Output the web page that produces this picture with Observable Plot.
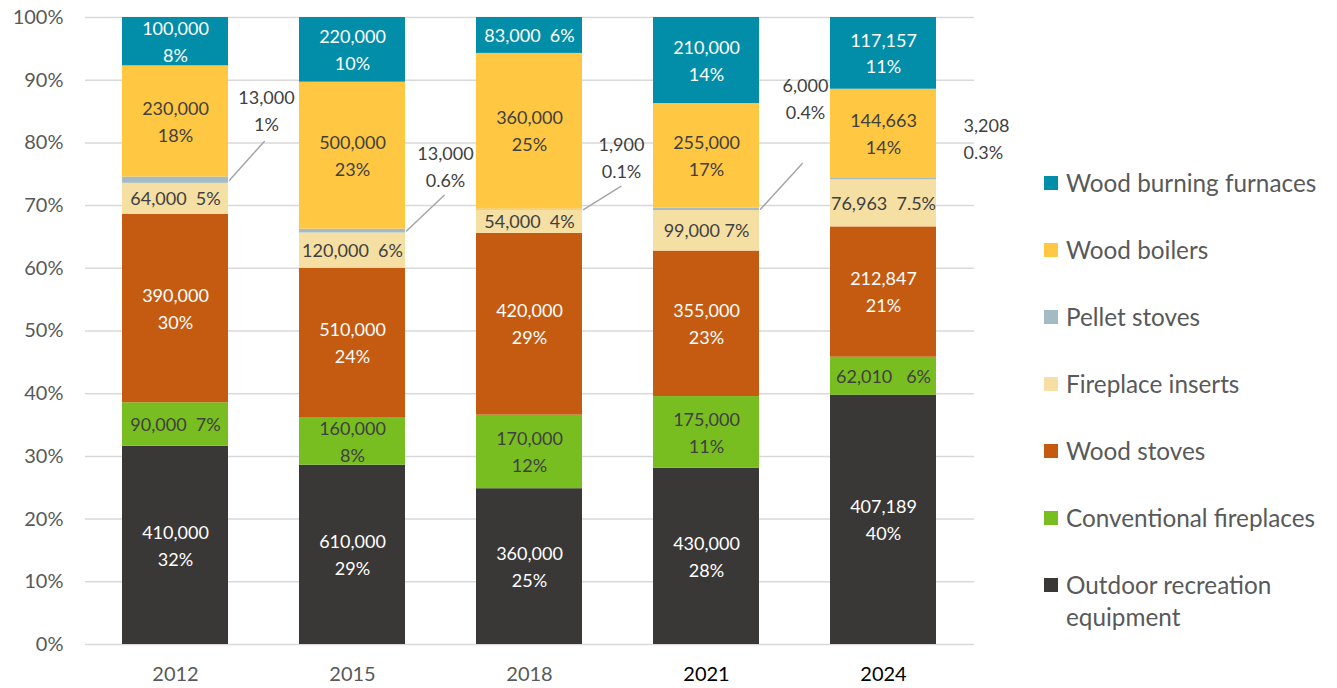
<!DOCTYPE html>
<html>
<head>
<meta charset="utf-8">
<script src="https://cdn.jsdelivr.net/npm/d3@7"></script>
<script src="https://cdn.jsdelivr.net/npm/@observablehq/plot@0.6"></script>
<style>
  html, body { margin: 0; padding: 0; background: #fff; }
  #wrap { position: relative; width: 1337px; height: 688px; font-family: Lato, "Open Sans", sans-serif; }
  #legend { position: absolute; left: 1044px; top: 0; }
  .item { position: absolute; left: 0; width: 293px; font-size: 24.3px; color: #595959; line-height: 32px; }
  .sw { position: absolute; left: 0; width: 14px; height: 14px; }
  .lab { position: absolute; left: 22px; white-space: nowrap; }
</style>
</head>
<body>
<div id="wrap"><div id="chart"></div><div id="legend"></div></div>
<script>
// ---- data ----
const years = ["2012", "2015", "2018", "2021", "2024"];
const categories = ["Outdoor recreation equipment", "Conventional fireplaces", "Wood stoves", "Fireplace inserts", "Pellet stoves", "Wood boilers", "Wood burning furnaces"];
const colors = ["#3A3837", "#78BE20", "#C55A11", "#F5DFA3", "#A5BBC3", "#FFC742", "#028DA9"];

const outdoor      = [410000, 610000, 360000, 430000, 407189];
const conventional = [90000, 160000, 170000, 175000, 62010];
const woodStoves   = [390000, 510000, 420000, 355000, 212847];
const inserts      = [64000, 120000, 54000, 99000, 76963];
const pellet       = [13000, 13000, 1900, 6000, 3208];
const boilers      = [230000, 500000, 360000, 255000, 144663];
const furnaces     = [100000, 220000, 83000, 210000, 117157];

const pctOutdoor      = ["32%", "29%", "25%", "28%", "40%"];
const pctConventional = ["7%", "8%", "12%", "11%", "6%"];
const pctWoodStoves   = ["30%", "24%", "29%", "23%", "21%"];
const pctInserts      = ["5%", "6%", "4%", "7%", "7.5%"];
const pctPellet       = ["1%", "0.6%", "0.1%", "0.4%", "0.3%"];
const pctBoilers      = ["18%", "23%", "25%", "17%", "14%"];
const pctFurnaces     = ["8%", "10%", "6%", "14%", "11%"];

const yTicks = [0, 0.1, 0.2, 0.3, 0.4, 0.5, 0.6, 0.7, 0.8, 0.9, 1];

// ---- build table ----
const seriesVals = [outdoor, conventional, woodStoves, inserts, pellet, boilers, furnaces];
const seriesPct = [pctOutdoor, pctConventional, pctWoodStoves, pctInserts, pctPellet, pctBoilers, pctFurnaces];
const rows = [];
categories.forEach((c, ci) => years.forEach((y, yi) => rows.push({year: y, cat: c, value: seriesVals[ci][yi], pct: seriesPct[ci][yi]})));

// label layout (style): one-line labels use a separator, others two lines
const NB = "\u00a0";
const inline = {
  "Fireplace inserts|2012": NB + NB, "Fireplace inserts|2015": NB + NB, "Fireplace inserts|2018": NB + NB,
  "Fireplace inserts|2021": NB, "Fireplace inserts|2024": NB + NB,
  "Conventional fireplaces|2012": NB + NB, "Conventional fireplaces|2024": NB + NB + NB,
  "Wood burning furnaces|2018": NB + NB
};
const whiteText = new Set(["Wood burning furnaces", "Wood stoves", "Outdoor recreation equipment"]);
const fmt = d3.format(",");
const labelText = d => {
  const sep = inline[d.cat + "|" + d.year];
  return sep ? fmt(d.value) + sep + d.pct : fmt(d.value) + "\n" + d.pct;
};

const stackOpts = (extra) => ({x: "year", y: "value", z: "cat", order: categories, offset: "normalize", ...extra});

// pellet callouts (style offsets in px)
const callouts = [
  {year: "2012", dx: 91, dy: -71, len: 52, rot: 42},
  {year: "2015", dx: 93, dy: -66, len: 52, rot: 46.5},
  {year: "2018", dx: 92, dy: -54, len: 44, rot: 58},
  {year: "2021", dx: 99, dy: -112, len: 62, rot: 42.4},
  {year: "2024", dx: 80, dy: -42, anchor: "start"}
];
const lineShape = {draw(context, l) { context.moveTo(0, 0); context.lineTo(0, -l); }};

const calloutMarks = [];
for (const c of callouts) {
  calloutMarks.push(Plot.text(rows, Plot.filter(d => d.cat === "Pellet stoves" && d.year === c.year,
    Plot.stackY(stackOpts({text: d => fmt(d.value) + "\n" + d.pct, dx: c.dx, dy: c.dy, textAnchor: c.anchor || "middle",
      fill: "#404040", fontSize: 18, lineHeight: 1.5})))));
  if (c.len) {
    calloutMarks.push(Plot.vector(rows, Plot.filter(d => d.cat === "Pellet stoves" && d.year === c.year,
      Plot.stackY(stackOpts({length: c.len, rotate: c.rot, anchor: "start", shape: lineShape, dx: 54,
        stroke: "#A6A6A6", strokeWidth: 1.5})))));
  }
}

const chart = Plot.plot({
  width: 1337,
  height: 688,
  marginTop: 17,
  marginBottom: 44,
  marginLeft: 85,
  marginRight: 363,
  style: {fontFamily: "Lato, 'Open Sans', sans-serif", background: "#fff"},
  x: {domain: years, paddingInner: 0.4, paddingOuter: 0.2, label: null},
  y: {domain: [0, 1], label: null},
  color: {domain: categories, range: colors},
  marks: [
    Plot.gridY(yTicks, {stroke: "#D9D9D9", strokeOpacity: 1, strokeWidth: 1.5}),
    Plot.barY(rows, Plot.stackY(stackOpts({fill: "cat"}))),
    Plot.text(rows, Plot.filter(d => d.cat !== "Pellet stoves",
      Plot.stackY(stackOpts({text: labelText, fill: d => whiteText.has(d.cat) ? "#ffffff" : "#404040", fontSize: 18, lineHeight: 1.5, dy: -2})))),
    ...calloutMarks,
    Plot.axisY(yTicks, {tickFormat: d3.format(".0%"), tickSize: 0, tickPadding: 22, fontSize: 20, fill: "#595959", label: null}),
    Plot.axisX(["2012", "2015", "2018"], {tickSize: 0, tickPadding: 22, fontSize: 20, fill: "#595959", label: null}),
    Plot.axisX(["2021", "2024"], {tickSize: 0, tickPadding: 22, fontSize: 20, fill: "#000000", label: null})
  ]
});
document.getElementById("chart").appendChild(chart);

// legend (top to bottom = top of stack first)
const legend = document.getElementById("legend");
const legendTops = [183, 250, 317, 384, 451, 518, 585];
categories.slice().reverse().forEach((c, i) => {
  const ci = categories.indexOf(c);
  const it = document.createElement("div");
  it.className = "item";
  it.style.top = (legendTops[i] - 16) + "px";
  const sw = document.createElement("div");
  sw.className = "sw";
  sw.style.background = colors[ci];
  sw.style.top = "9px";
  const lab = document.createElement("div");
  lab.className = "lab";
  lab.innerHTML = c === "Outdoor recreation equipment" ? "Outdoor recreation<br>equipment" : c;
  it.appendChild(sw); it.appendChild(lab);
  legend.appendChild(it);
});
</script>
</body>
</html>
